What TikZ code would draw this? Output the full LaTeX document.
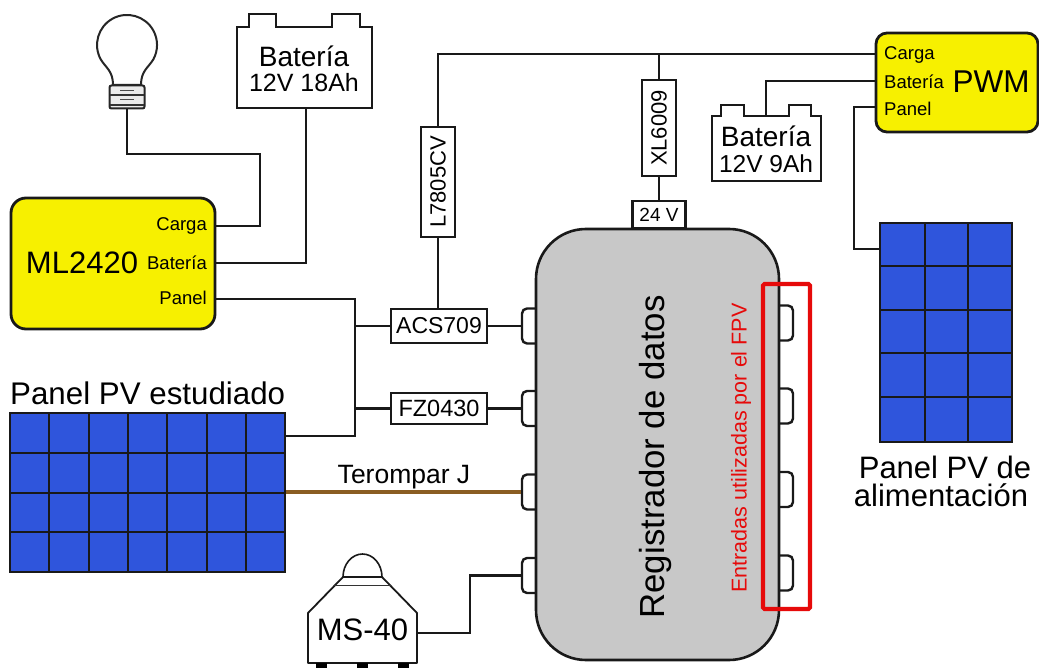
\documentclass[tikz,border=0pt]{standalone}
\usepackage{fontspec}
\setmainfont{Liberation Sans}
\definecolor{ylw}{HTML}{F7F000}
\definecolor{pvblue}{HTML}{2F55DC}
\definecolor{lggrey}{HTML}{C8C8C8}
\definecolor{tcbrown}{HTML}{8A5D22}
\definecolor{redbox}{HTML}{E60A0A}
\newcommand{\fs}[1]{\fontsize{#1}{#1}\selectfont}
\tikzset{
  wire/.style={line width=2.4pt,draw=black!90},
  yellowctl/.style={draw=black!90,fill=ylw,line width=2.8pt,rounded corners=15pt,inner sep=0pt},
  modbox/.style={draw=black!90,fill=white,line width=2.6pt,inner sep=0pt,font=\fs{22}},
  tab/.style={draw=black!90,fill=white,line width=2.4pt,rounded corners=5pt,minimum width=28pt,minimum height=35pt,inner sep=0pt},
  port/.style={inner sep=0pt,font=\fs{18.5}},
  big/.style={inner sep=0pt,font=\fs{31},align=center},
  batshape/.style={draw=black!90,fill=white,line width=2.4pt,line join=miter},
  pvgrid/.style={draw=black!90,line width=2pt},
}
\begin{document}
\begin{tikzpicture}[x=1pt,y=-1pt]
\useasboundingbox (0,0) rectangle (1039,668);
% --- data logger with input tabs
\foreach \n/\yy in {1/326,2/408.5,3/492,4/575.5}{
  \node[tab] (tabL\n) at (536,\yy) {};
}
\foreach \n/\yy in {1/323,2/406,3/489.5,4/573}{
  \node[tab] (tabR\n) at (779,\yy) {};
}
\node[draw=black!90,fill=lggrey,line width=2.6pt,rounded corners=50pt,minimum width=243pt,minimum height=431pt,inner sep=0pt] (logger) at (657.5,444.5) {};
\node[rotate=90,inner sep=0pt,font=\fs{34.8}] (lgtxt) at (655,457) {Registrador de datos};
\node[rotate=90,inner sep=0pt,font=\fs{21.5},text=redbox] (redtxt) at (741,448) {Entradas utilizadas por el FPV};
\node[draw=redbox,line width=4.2pt,rounded corners=1.5pt,minimum width=47pt,minimum height=325pt,inner sep=0pt] (redrect) at (786.5,446.5) {};
% --- ML2420
\node[yellowctl,minimum width=204pt,minimum height=131pt] (ml) at (113,263.5) {};
\node[inner sep=0pt,font=\fs{31}] (mlname) at (82,263) {ML2420};
\node[port,anchor=east] (mlC) at (207,226) {Carga};
\node[port,anchor=east] (mlB) at (207,263) {Batería};
\node[port,anchor=east] (mlP) at (207,298) {Panel};
\coordinate (mlCp) at (ml.east |- 0,226);
\coordinate (mlBp) at (ml.east |- 0,263);
\coordinate (mlPp) at (ml.east |- 0,299);
% --- PWM
\node[yellowctl,rounded corners=11pt,minimum width=162pt,minimum height=99pt] (pwm) at (957,82.5) {};
\node[inner sep=0pt,font=\fs{31.5}] (pwmname) at (991,82) {PWM};
\node[port,anchor=west] (pwmC) at (884,55) {Carga};
\node[port,anchor=west] (pwmB) at (884,82) {Batería};
\node[port,anchor=west] (pwmP) at (884,109) {Panel};
\coordinate (pwmCp) at (pwm.west |- 0,54);
\coordinate (pwmBp) at (pwm.west |- 0,81);
\coordinate (pwmPp) at (pwm.west |- 0,107);
% --- battery 18Ah
\draw[batshape,line width=2.8pt] (237,108) -- (237,27) -- (249,27) -- (249,14) -- (276,14) -- (276,27) -- (332,27) -- (332,14) -- (360,14) -- (360,27) -- (372,27) -- (372,108) -- cycle;
\node[inner sep=0pt,minimum width=135pt,minimum height=1pt] (bat1) at (304.5,108) {};
\node[inner sep=0pt,font=\fs{28}] (bat1a) at (304,56) {Batería};
\node[inner sep=0pt,font=\fs{25}] (bat1b) at (304,83) {12V 18Ah};
% --- battery 9Ah
\draw[batshape] (712,181) -- (712,116) -- (721,116) -- (721,105) -- (744,105) -- (744,116) -- (789,116) -- (789,105) -- (811,105) -- (811,116) -- (821,116) -- (821,181) -- cycle;
\coordinate (bat2top) at (766,116);
\node[inner sep=0pt,font=\fs{28}] (bat2a) at (766,136) {Batería};
\node[inner sep=0pt,font=\fs{24.5}] (bat2b) at (766,164) {12V 9Ah};
% --- bulb
\draw[line width=2pt,draw=black!85,fill=white,line join=round] (113,85) .. controls (113,71) and (106,68) .. (100.8,59.5) arc[start angle=209,end angle=-29,radius=30pt] .. controls (148,68) and (141,71) .. (141,85) -- cycle;
\node[draw=black!85,fill=black!8,line width=2pt,rounded corners=2pt,minimum width=35pt,minimum height=23pt,inner sep=0pt] (bulb) at (127,97) {};
\draw[line width=1pt,draw=black!70] (120,90.5) -- (134,90.5) (120,99.5) -- (134,99.5);
\draw[line width=1.6pt,draw=black!80] (110,95) -- (144,95) (110,105) -- (144,105);
% --- PV panels
\node[draw=black!90,fill=pvblue,line width=2.4pt,minimum width=275pt,minimum height=159pt,inner sep=0pt] (pvL) at (147.5,492.5) {};
\foreach \xx in {49.3,88.6,127.9,167.2,206.5,245.8}{
  \draw[pvgrid] (\xx,413) -- (\xx,572);
}
\foreach \yy in {452.75,492.5,532.25}{
  \draw[pvgrid] (10,\yy) -- (285,\yy);
}
\node[inner sep=0pt,anchor=west,font=\fs{31.3}] (pvLtxt) at (10,393) {Panel PV estudiado};
\node[draw=black!90,fill=pvblue,line width=2.4pt,minimum width=132pt,minimum height=219pt,inner sep=0pt] (pvR) at (946,332.5) {};
\foreach \xx in {925,968}{
  \draw[pvgrid] (\xx,223) -- (\xx,442);
}
\foreach \yy in {266.5,310,353,397}{
  \draw[pvgrid] (880,\yy) -- (1012,\yy);
}
\node[big] (pvRtxt) at (945,467) {Panel PV de};
\node[big] (pvRtxt2) at (941,495) {alimentación};
\coordinate (pvRp) at (pvR.west |- 0,249);
\coordinate (pvLp) at (pvL.east |- 0,436);
\coordinate (pvLt) at (pvL.east |- 0,492);
% --- modules
\node[modbox,font=\fs{23},minimum width=96pt,minimum height=34pt] (acs) at (439,326) {ACS709};
\node[modbox,font=\fs{23.5},minimum width=96pt,minimum height=31pt] (fz) at (439,408.5) {FZ0430};
\node[modbox,rotate=90,minimum width=110pt,minimum height=34pt] (l78) at (438,182) {L7805CV};
\node[modbox,rotate=90,minimum width=96pt,minimum height=34pt] (xl) at (659,128) {XL6009};
\node[modbox,font=\fs{19},minimum width=53pt,minimum height=27pt] (v24) at (659,214.5) {24 V};
% --- MS-40
\draw[batshape,line width=1.6pt,fill=white] (343,577) arc[start angle=180,end angle=0,x radius=19.5pt,y radius=23pt];
\draw[batshape,line width=1.8pt,line join=round] (343,577) -- (308,613) -- (308,663) -- (417,663) -- (417,613) -- (382,577) -- cycle;
\draw[line width=1.6pt,draw=black!80] (334,585.5) -- (391,585.5);
\foreach \xx in {316,357,398}{
  \fill[black] (\xx,663) rectangle (\xx+11,668);
}
\node[inner sep=0pt,minimum width=109pt,font=\fs{31}] (ms) at (362.5,630) {MS-40};
\coordinate (msp) at (ms.east |- 0,633);
% --- thermocouple
\node[inner sep=0pt,font=\fs{26.5}] (tc) at (404,477) {Terompar J};
\draw[line width=4pt,draw=tcbrown] (pvLt) -- (tabL3.west);
% --- wires
\coordinate (j1) at (127,154);
\coordinate (j2) at (260,154);
\draw[wire] (bulb.south) -- (j1) -- (j2) -- (mlCp -| j2) -- (mlCp);
\draw[wire] (306,108) -- (306,263) -- (mlBp);
\coordinate (busP) at (355,299);
\draw[wire] (mlPp) -- (busP) -- (busP |- pvLp) -- (pvLp);
\draw[wire] (busP |- acs.west) -- (acs.west);
\draw[wire] (busP |- fz.west) -- (fz.west);
\draw[wire] (acs.east) -- (tabL1.west);
\draw[wire] (fz.east) -- (tabL2.west);
\coordinate (topL) at (438,54);
\draw[wire] (pwmCp) -- (topL) -- (l78.east);
\draw[wire] (l78.west) -- (acs.north -| l78.west);
\draw[wire] (xl.east |- topL) -- (xl.east);
\draw[wire] (xl.west) -- (v24.north);
\draw[wire] (pwmBp) -- (pwmBp -| bat2top) -- (bat2top);
\coordinate (pj) at (854,107);
\draw[wire] (pwmPp) -- (pj) -- (pj |- pvRp) -- (pvRp);
\coordinate (mj) at (470,633);
\draw[wire] (msp) -- (mj) -- (mj |- tabL4.west) -- (tabL4.west);
\end{tikzpicture}
\end{document}
